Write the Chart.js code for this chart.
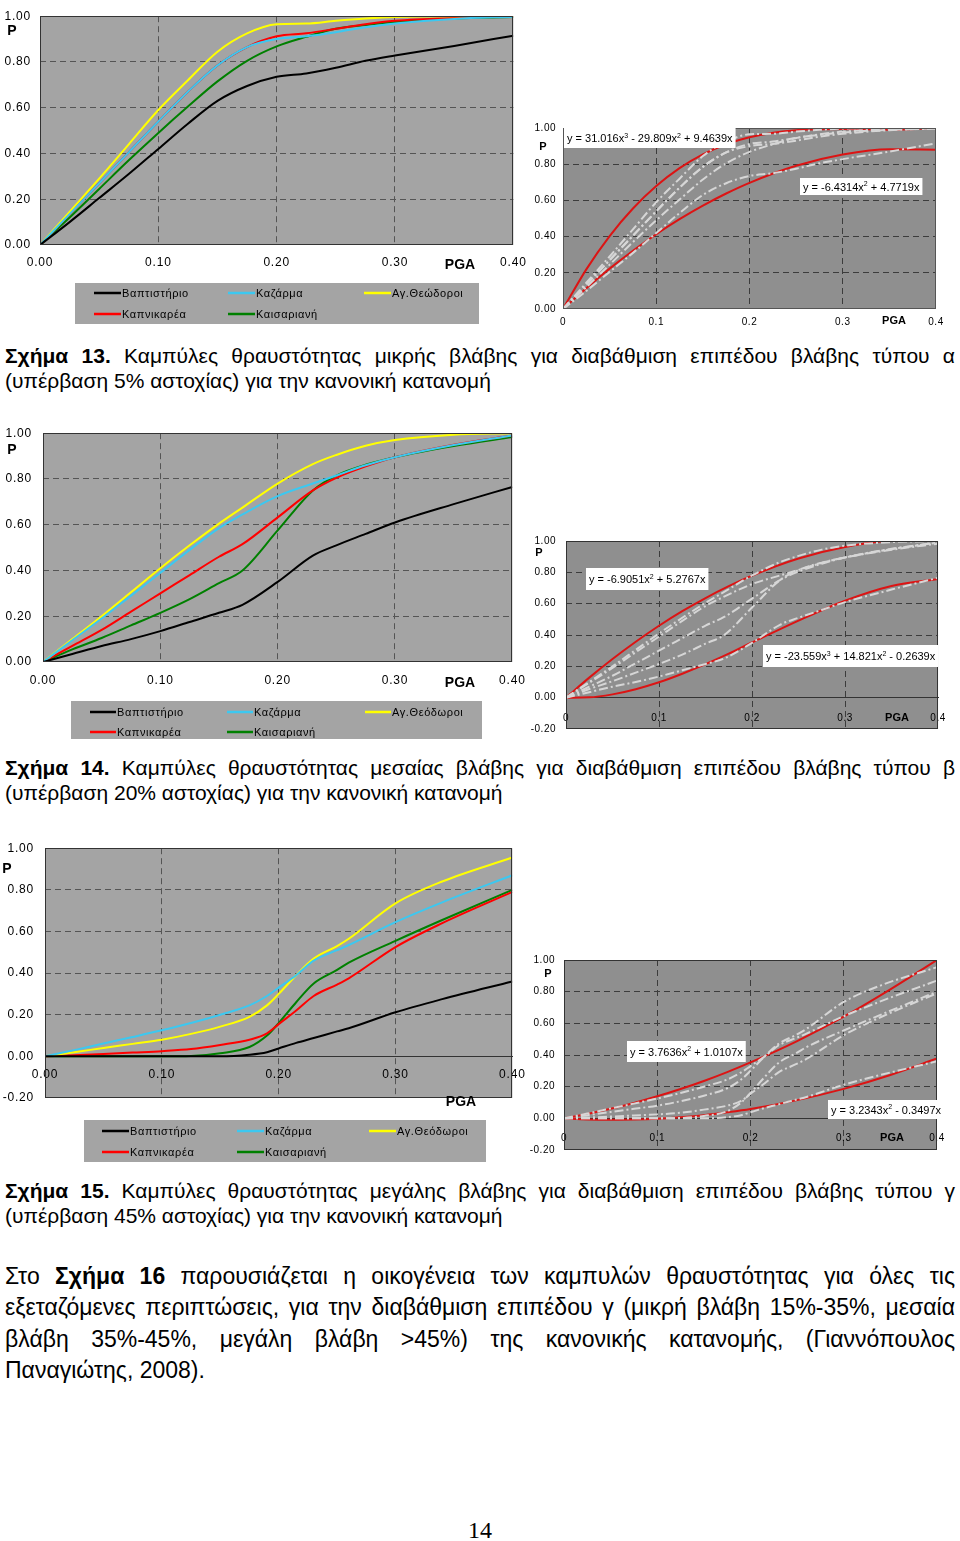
<!DOCTYPE html>
<html><head><meta charset="utf-8">
<script src="https://cdn.jsdelivr.net/npm/chart.js@4/dist/chart.umd.min.js"></script>
<style>
body{margin:0;background:#fff;width:960px;height:1541px;position:relative;overflow:hidden}
canvas{position:absolute}
.t{position:absolute;left:5px;width:950px;font-family:"Liberation Sans Narrow","Arial Narrow","Liberation Sans",sans-serif;color:#000;white-space:nowrap}
.c{font-size:21px;line-height:25px}
.p{font-size:23px;line-height:31px}
.j{text-align:justify;text-align-last:justify}
.pg{position:absolute;left:0;width:960px;text-align:center;top:1515px;font-family:"Liberation Serif","Times New Roman",serif;font-size:24px;line-height:30px}
</style></head><body>
<div class="t c j" style="top:343px"><b>Σχήμα 13.</b> Καμπύλες θραυστότητας μικρής βλάβης για διαβάθμιση επιπέδου βλάβης τύπου α</div>
<div class="t c" style="top:368px">(υπέρβαση 5% αστοχίας) για την κανονική κατανομή</div>
<div class="t c j" style="top:755px"><b>Σχήμα 14.</b> Καμπύλες θραυστότητας μεσαίας βλάβης για διαβάθμιση επιπέδου βλάβης τύπου β</div>
<div class="t c" style="top:780px">(υπέρβαση 20% αστοχίας) για την κανονική κατανομή</div>
<div class="t c j" style="top:1178px"><b>Σχήμα 15.</b> Καμπύλες θραυστότητας μεγάλης βλάβης για διαβάθμιση επιπέδου βλάβης τύπου γ</div>
<div class="t c" style="top:1203px">(υπέρβαση 45% αστοχίας) για την κανονική κατανομή</div>
<div class="t p j" style="top:1261px">Στο <b>Σχήμα 16</b> παρουσιάζεται η οικογένεια των καμπυλών θραυστότητας για όλες τις</div>
<div class="t p j" style="top:1292px">εξεταζόμενες περιπτώσεις, για την διαβάθμιση επιπέδου γ (μικρή βλάβη 15%-35%, μεσαία</div>
<div class="t p j" style="top:1324px">βλάβη 35%-45%, μεγάλη βλάβη &gt;45%) της κανονικής κατανομής, (Γιαννόπουλος</div>
<div class="t p" style="top:1355px">Παναγιώτης, 2008).</div>
<div class="pg">14</div>
<script>
// ---------- DATA ----------
const seriesLabels13 = ['Βαπτιστήριο','Καζάρμα','Αγ.Θεώδοροι','Καπνικαρέα','Καισαριανή'];
const seriesLabels = ['Βαπτιστήριο','Καζάρμα','Αγ.Θεόδωροι','Καπνικαρέα','Καισαριανή'];

const xTickLabelsLeft = ['0.00','0.10','0.20','0.30','0.40'];
const xTickLabelsRight = ['0','0.1','0.2','0.3','0.4'];
const yTickLabels = ['0.00','0.20','0.40','0.60','0.80','1.00'];
const yTickLabelsNeg = ['-0.20','0.00','0.20','0.40','0.60','0.80','1.00'];

// Σχήμα 13
const pga13 = [0,0.025,0.05,0.075,0.1,0.125,0.15,0.175,0.2,0.225,0.25,0.275,0.3,0.35,0.4];
const vaptistirio13 = [0,0.10,0.205,0.31,0.42,0.53,0.63,0.695,0.735,0.75,0.775,0.805,0.828,0.87,0.915];
const kazarma13 = [0,0.135,0.27,0.405,0.54,0.67,0.785,0.865,0.90,0.912,0.93,0.952,0.968,0.988,0.998];
const agTheodoroi13 = [0,0.145,0.29,0.44,0.59,0.72,0.845,0.925,0.965,0.968,0.98,0.99,0.997,1.0,1.0];
const kapnikarea13 = [0,0.135,0.27,0.405,0.54,0.67,0.785,0.865,0.912,0.925,0.945,0.965,0.98,0.993,1.0];
const kaisariani13 = [0,0.12,0.245,0.37,0.49,0.605,0.715,0.805,0.868,0.91,0.945,0.962,0.975,0.99,0.996];

// Σχήμα 14
const pga14 = [0,0.025,0.05,0.075,0.1,0.125,0.15,0.17,0.2,0.23,0.25,0.275,0.3,0.35,0.4];
const vaptistirio14 = [0,0.035,0.07,0.10,0.135,0.175,0.215,0.25,0.35,0.465,0.51,0.56,0.61,0.69,0.765];
const kazarma14 = [0,0.095,0.19,0.29,0.39,0.49,0.585,0.645,0.725,0.78,0.815,0.86,0.895,0.948,0.99];
const agTheodoroi14 = [0,0.10,0.20,0.305,0.41,0.51,0.605,0.675,0.78,0.865,0.905,0.945,0.97,0.993,1.0];
const kapnikarea14 = [0,0.07,0.14,0.22,0.30,0.38,0.46,0.515,0.632,0.75,0.805,0.855,0.895,0.95,0.99];
const kaisariani14 = [0,0.055,0.105,0.16,0.215,0.275,0.345,0.40,0.575,0.75,0.815,0.862,0.895,0.944,0.983];

// Σχήμα 15
const pga15 = [0,0.025,0.05,0.075,0.1,0.125,0.15,0.175,0.19,0.2,0.215,0.23,0.25,0.26,0.3,0.34,0.4];
const vaptistirio15 = [0,0,0,0,0,0,0,0.008,0.02,0.038,0.065,0.088,0.12,0.135,0.212,0.275,0.36];
const kazarma15 = [0,0.03,0.062,0.093,0.125,0.16,0.2,0.245,0.29,0.33,0.39,0.46,0.51,0.535,0.645,0.74,0.87];
const agTheodoroi15 = [0,0.02,0.04,0.06,0.08,0.108,0.143,0.19,0.245,0.30,0.39,0.47,0.53,0.565,0.735,0.84,0.955];
const kapnikarea15 = [0,0.005,0.011,0.018,0.025,0.035,0.055,0.08,0.11,0.155,0.22,0.29,0.345,0.375,0.525,0.64,0.79];
const kaisariani15 = [0,0,0,0,0,0.002,0.015,0.045,0.1,0.16,0.26,0.35,0.415,0.45,0.555,0.655,0.8];

// trend curves (right-hand charts)
const pgaFit = [0,0.025,0.05,0.075,0.1,0.125,0.15,0.175,0.2,0.25,0.3,0.35,0.4];
const fit13Upper = [0,0.219,0.403,0.555,0.679,0.778,0.854,0.910,0.949,0.988,0.994,0.991,1.0];
const fit13Lower = [0,0.115,0.223,0.322,0.413,0.496,0.571,0.638,0.697,0.791,0.853,0.882,0.88];
const fit14Upper = [0,0.128,0.247,0.357,0.459,0.552,0.636,0.712,0.779,0.888,0.962,1.0,1.0];
const fit14Lower = [0,0.002,0.021,0.054,0.098,0.153,0.214,0.281,0.352,0.492,0.619,0.713,0.758];
const fit15Upper = [0,0.028,0.06,0.097,0.139,0.185,0.236,0.292,0.353,0.488,0.642,0.815,1.0];
const fit15Lower = [0,-0.007,-0.009,-0.008,-0.003,0.007,0.02,0.038,0.059,0.115,0.186,0.274,0.378];

const eq13 = ['y = 31.016x^3 - 29.809x^2 + 9.4639x','y = -6.4314x^2 + 4.7719x'];
const eq14 = ['y = -6.9051x^2 + 5.2767x','y = -23.559x^3 + 14.821x^2 - 0.2639x'];
const eq15 = ['y = 3.7636x^2 + 1.0107x','y = 3.2343x^2 - 0.3497x'];

// ---------- RENDERING ----------
const F = "'Liberation Sans', Arial, sans-serif";
const seriesColors = ['#000000','#3cc8f0','#ffff00','#ff0000','#008000'];
const pts = (xs, ys) => xs.map((x,i)=>({x:x, y:ys[i]}));

function leftDatasets(xs, arrs, labels){
  return arrs.map((a,i)=>({label:labels[i], data:pts(xs,a), borderColor:seriesColors[i], borderWidth:2, pointRadius:0, fill:false}));
}
function rightDatasets(xs, arrs, fx, up, lo){
  const g = arrs.map((a,i)=>({label:'g'+i, data:pts(xs,a), borderColor:'#d6d6d6', borderWidth:2, borderDash:[9,3,2,3], pointRadius:0, fill:false}));
  g.push({label:'u', data:pts(fx,up), borderColor:'#dc1414', borderWidth:2, pointRadius:0, fill:false});
  g.push({label:'l', data:pts(fx,lo), borderColor:'#dc1414', borderWidth:2, pointRadius:0, fill:false});
  return g;
}

function drawEq(ctx, str, bx, by, bh, fs){
  const parts=[]; const re=/\^(\d)/g; let last=0, m;
  while((m=re.exec(str))){ parts.push([str.slice(last,m.index),false]); parts.push([m[1],true]); last=re.lastIndex; }
  parts.push([str.slice(last),false]);
  ctx.letterSpacing='0px';
  let w=0;
  parts.forEach(p=>{ ctx.font=(p[1]?Math.round(fs*0.65):fs)+'px '+F; w+=ctx.measureText(p[0]).width; });
  const pad=3;
  ctx.fillStyle='#fff'; ctx.fillRect(bx,by,w+2*pad,bh);
  let x=bx+pad; const base=by+bh/2+fs*0.38;
  ctx.fillStyle='#000'; ctx.textBaseline='alphabetic'; ctx.textAlign='left';
  parts.forEach(p=>{ ctx.font=(p[1]?Math.round(fs*0.65):fs)+'px '+F; ctx.fillText(p[0], x, p[1]?base-fs*0.42:base); x+=ctx.measureText(p[0]).width; });
}

const deco = {
  id:'deco',
  beforeDraw(chart, args, o){
    const {ctx, chartArea:a} = chart;
    ctx.save(); ctx.fillStyle=o.bg; ctx.fillRect(a.left,a.top,a.width,a.height); ctx.restore();
    ctx.letterSpacing = o.ls || '0px';
  },
  afterDatasetsDraw(chart, args, o){
    const {ctx, chartArea:a} = chart;
    ctx.save(); ctx.strokeStyle=o.frame; ctx.lineWidth=1;
    ctx.strokeRect(Math.round(a.left)+0.5, Math.round(a.top)+0.5, Math.round(a.width)-1, Math.round(a.height)-1);
    ctx.restore();
  },
  afterDraw(chart, args, o){
    const ctx = chart.ctx;
    ctx.save();
    (o.texts||[]).forEach(t=>{
      ctx.letterSpacing='0px';
      ctx.font='bold '+t.s+'px '+F; ctx.fillStyle='#000'; ctx.textAlign='center'; ctx.textBaseline='middle';
      ctx.fillText(t.t, t.x, t.y);
    });
    (o.eqs||[]).forEach(e=> drawEq(ctx, e.t, e.x, e.y, e.h, e.s));
    if (o.legend){
      const L=o.legend;
      ctx.fillStyle=L.bg; ctx.fillRect(L.x,L.y,L.w,L.h);
      chart.data.datasets.forEach((ds,i)=>{
        const x=L.cols[i%3], y=L.rows[Math.floor(i/3)];
        ctx.strokeStyle=ds.borderColor; ctx.lineWidth=2.5; ctx.setLineDash([]);
        ctx.beginPath(); ctx.moveTo(x,y); ctx.lineTo(x+L.len,y); ctx.stroke();
        ctx.letterSpacing='0.6px';
        ctx.font='11px '+F; ctx.fillStyle='#000'; ctx.textAlign='left'; ctx.textBaseline='middle';
        ctx.fillText(ds.label, x+L.len+1, y+1);
      });
    }
    ctx.restore();
  }
};

function near(a,b){ return Math.abs(a-b)<1e-6; }

function buildChart(s){
  const c=document.createElement('canvas');
  c.width=s.w; c.height=s.h;
  c.style.left=s.left+'px'; c.style.top=s.top+'px'; c.style.width=s.w+'px'; c.style.height=s.h+'px';
  document.body.appendChild(c);
  const yW=s.plotL-s.left, padT=s.plotT-s.top, padR=s.left+s.w-s.plotR, xH=s.top+s.h-s.plotB;
  const dyn=s.yMin<0;
  const gridCol=s.grid;
  return new Chart(c,{
    type:'line',
    data:{datasets:s.datasets},
    options:{
      responsive:false, animation:false, devicePixelRatio:1,
      layout:{padding:{top:padT,right:padR,left:0,bottom:dyn?xH:0}},
      elements:{line:{cubicInterpolationMode:'monotone'}, point:{radius:0}},
      plugins:{legend:{display:false}, tooltip:{enabled:false}, deco:s.deco},
      scales:{
        x:{type:'linear', min:0, max:0.4, position: dyn?{y:0}:'bottom',
          afterFit:(sc)=>{ sc.height = dyn?0:xH; },
          ticks:{stepSize:0.1, padding:s.xPad, color:'#000', font:{family:F,size:s.fs}, maxRotation:0, autoSkip:false,
            callback:(v,i)=>s.xLabels[i]},
          grid:{drawTicks:false, lineWidth:1, color:(ctx)=>{ const v=ctx.tick?ctx.tick.value:0; return (near(v,0)||near(v,0.4))?'rgba(0,0,0,0)':gridCol; }},
          border:{display:dyn, color:'#333', width:1, dash:[6,4]}},
        y:{type:'linear', min:s.yMin, max:1,
          afterFit:(sc)=>{ sc.width = yW; },
          ticks:{stepSize:0.2, padding:s.yPad, color:'#000', font:{family:F,size:s.fs},
            callback:(v,i)=>s.yLabels[i]},
          grid:{drawTicks:false, lineWidth:1, color:(ctx)=>{ const v=ctx.tick?ctx.tick.value:0; return (near(v,s.yMin)||near(v,1)||near(v,0))?'rgba(0,0,0,0)':gridCol; }},
          border:{display:false, dash:[6,4]}}
      }
    },
    plugins:[deco]
  });
}

// Chart 13 left
buildChart({left:0, top:0, w:535, h:330, plotL:40, plotR:518, plotT:6, plotB:245, yMin:0, fs:12, xPad:10, yPad:9,
  xLabels:xTickLabelsLeft, yLabels:yTickLabels, grid:'#555555',
  datasets:leftDatasets(pga13,[vaptistirio13,kazarma13,agTheodoroi13,kapnikarea13,kaisariani13],seriesLabels13),
  deco:{bg:'#a4a4a4', frame:'#333333', ls:'0.8px',
    texts:[{t:'P',x:12,y:31,s:14},{t:'PGA',x:460,y:265,s:14}],
    legend:{bg:'#a4a4a4', x:75, y:283, w:404, h:41, cols:[94,228,364], rows:[293,314], len:27}}});

// Chart 13 right
buildChart({left:530, top:115, w:430, h:220, plotL:563, plotR:936, plotT:126, plotB:309, yMin:0, fs:10, xPad:7, yPad:7,
  xLabels:xTickLabelsRight, yLabels:yTickLabels, grid:'#3c3c3c',
  datasets:rightDatasets(pga13,[vaptistirio13,kazarma13,agTheodoroi13,kapnikarea13,kaisariani13],pgaFit,fit13Upper,fit13Lower),
  deco:{bg:'#8f8f8f', frame:'#555555', ls:'0.5px',
    texts:[{t:'P',x:13,y:32,s:11},{t:'PGA',x:364,y:206,s:11}],
    eqs:[{t:eq13[0],x:34,y:13,h:20,s:11},{t:eq13[1],x:270,y:63,h:17,s:11}]}});

// Chart 14 left
buildChart({left:0, top:415, w:535, h:330, plotL:43, plotR:517, plotT:424, plotB:662, yMin:0, fs:12, xPad:11, yPad:11,
  xLabels:xTickLabelsLeft, yLabels:yTickLabels, grid:'#555555',
  datasets:leftDatasets(pga14,[vaptistirio14,kazarma14,agTheodoroi14,kapnikarea14,kaisariani14],seriesLabels),
  deco:{bg:'#a4a4a4', frame:'#333333', ls:'0.8px',
    texts:[{t:'P',x:12,y:35,s:14},{t:'PGA',x:460,y:268,s:14}],
    legend:{bg:'#a4a4a4', x:71, y:286, w:411, h:38, cols:[90,227,365], rows:[297,317], len:26}}});

// Chart 14 right
buildChart({left:530, top:525, w:430, h:220, plotL:566, plotR:945, plotT:531, plotB:736, yMin:-0.2, fs:10, xPad:15, yPad:10,
  xLabels:xTickLabelsRight, yLabels:yTickLabelsNeg, grid:'#3c3c3c',
  datasets:rightDatasets(pga14,[vaptistirio14,kazarma14,agTheodoroi14,kapnikarea14,kaisariani14],pgaFit,fit14Upper,fit14Lower),
  deco:{bg:'#8f8f8f', frame:'#333333', ls:'0.5px',
    texts:[{t:'P',x:9,y:28,s:11},{t:'PGA',x:367,y:193,s:11}],
    eqs:[{t:eq14[0],x:56,y:43,h:22,s:11},{t:eq14[1],x:233,y:120,h:22,s:11}]}});

// Chart 15 left
buildChart({left:0, top:830, w:535, h:340, plotL:45, plotR:519, plotT:842, plotB:1098, yMin:-0.2, fs:12, xPad:11, yPad:11,
  xLabels:xTickLabelsLeft, yLabels:yTickLabelsNeg, grid:'#555555',
  datasets:leftDatasets(pga15,[vaptistirio15,kazarma15,agTheodoroi15,kapnikarea15,kaisariani15],seriesLabels),
  deco:{bg:'#a4a4a4', frame:'#333333', ls:'0.8px',
    texts:[{t:'P',x:7,y:39,s:14},{t:'PGA',x:461,y:272,s:14}],
    legend:{bg:'#a4a4a4', x:84, y:290, w:402, h:42, cols:[102,237,369], rows:[301,322], len:27}}});

// Chart 15 right
buildChart({left:530, top:945, w:430, h:220, plotL:564, plotR:937, plotT:954, plotB:1156, yMin:-0.2, fs:10, xPad:14, yPad:9,
  xLabels:xTickLabelsRight, yLabels:yTickLabelsNeg, grid:'#3c3c3c',
  datasets:rightDatasets(pga15,[vaptistirio15,kazarma15,agTheodoroi15,kapnikarea15,kaisariani15],pgaFit,fit15Upper,fit15Lower),
  deco:{bg:'#8f8f8f', frame:'#333333', ls:'0.5px',
    texts:[{t:'P',x:18,y:29,s:11},{t:'PGA',x:362,y:193,s:11}],
    eqs:[{t:eq15[0],x:97,y:96,h:21,s:11},{t:eq15[1],x:298,y:155,h:19,s:11}]}});
</script>
</body></html>
